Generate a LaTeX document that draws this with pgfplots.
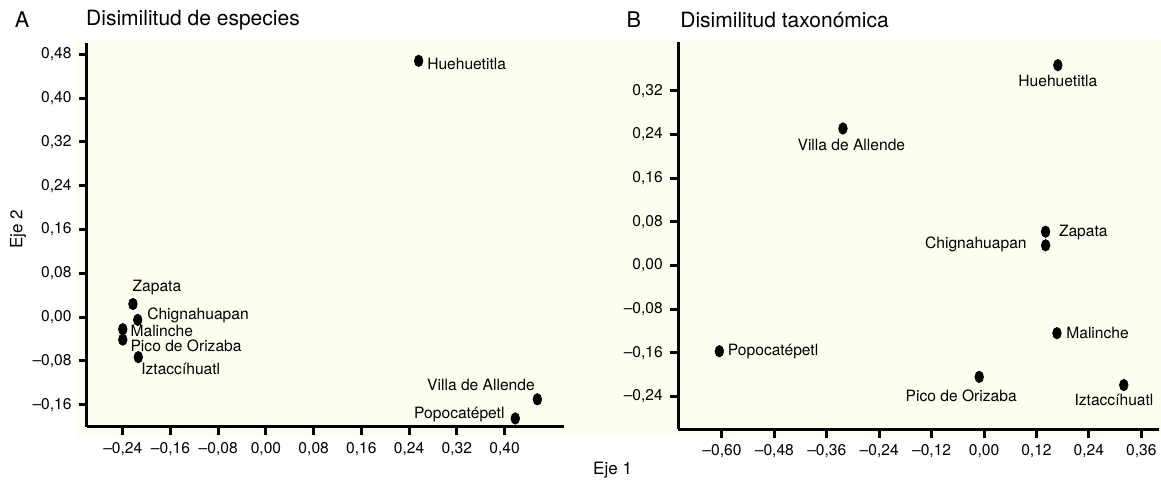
\documentclass[border=0pt]{standalone}
\usepackage{pgfplots}
\pgfplotsset{compat=1.18}
\usepackage{fontspec}
\setmainfont{TeX Gyre Heros}
\definecolor{cream}{RGB}{254,254,240}
\newcommand{\lab}{\fontsize{7.8}{9}\selectfont}
\begin{document}
\begin{tikzpicture}[x=1pt,y=1pt]
\useasboundingbox (0,0) rectangle (580.5,240.5);
\fill[cream] (38,21.7) rectangle (580.5,220.7);
\pgfplotsset{
  myax/.style={
    scale only axis,
    axis x line=bottom, axis y line=left,
    axis line style={-, line width=1.5pt},
    tick style={line width=1.5pt, black},
    tick align=outside,
    major tick length=4.2pt,
    minor tick num=0,
    ticklabel style={font=\lab},
    clip=false,
  }
}
% Panel A
\begin{axis}[myax,
  at={(43.5pt,27.15pt)}, anchor=south west,
  width=238.6pt, height=191.7pt,
  xmin=-0.30, xmax=0.50, ymin=-0.20, ymax=0.50,
  xtick={-0.24,-0.16,-0.08,0,0.08,0.16,0.24,0.32,0.40},
  xticklabels={{–0,24},{–0,16},{–0,08},{0,00},{0,08},{0,16},{0,24},{0,32},{0,40}},
  ytick={-0.16,-0.08,0,0.08,0.16,0.24,0.32,0.40,0.48},
  yticklabels={{–0,16},{–0,08},{0,00},{0,08},{0,16},{0,24},{0,32},{0,40},{0,48}},
]
\addplot[only marks, mark=*, mark size=2.85pt, mark options={draw=none, fill=black, xscale=0.75}]
  coordinates {(0.256,0.468) (-0.223,0.024) (-0.215,-0.005) (-0.240,-0.022) (-0.240,-0.041) (-0.214,-0.073) (0.455,-0.150) (0.418,-0.185)};
\begin{scope}[every node/.style={font=\lab, inner sep=0pt}]
\node[anchor=west, xshift=4.1pt, yshift=-1.5pt] at (axis cs:0.256,0.468) {Huehuetitla};
\node[xshift=12pt, yshift=8pt] at (axis cs:-0.223,0.024) {Zapata};
\node[anchor=west, xshift=4.6pt, yshift=2.5pt] at (axis cs:-0.215,-0.005) {Chignahuapan};
\node[anchor=west, xshift=3.7pt, yshift=-1pt] at (axis cs:-0.240,-0.022) {Malinche};
\node[anchor=west, xshift=3.7pt, yshift=-3pt] at (axis cs:-0.240,-0.041) {Pico de Orizaba};
\node[anchor=west, xshift=1.3pt, yshift=-6pt] at (axis cs:-0.214,-0.073) {Iztaccíhuatl};
\node[anchor=east, xshift=-1.1pt, yshift=7pt] at (axis cs:0.455,-0.150) {Villa de Allende};
\node[anchor=east, xshift=-5.2pt, yshift=2pt] at (axis cs:0.418,-0.185) {Popocatépetl};
\end{scope}
\end{axis}
% Panel B
\begin{axis}[myax,
  at={(339.15pt,25.85pt)}, anchor=south west,
  width=240.2pt, height=193.8pt,
  xmin=-0.70, xmax=0.40, ymin=-0.30, ymax=0.41,
  xtick={-0.60,-0.48,-0.36,-0.24,-0.12,0,0.12,0.24,0.36},
  xticklabels={{–0,60},{–0,48},{–0,36},{–0,24},{–0,12},{0,00},{0,12},{0,24},{0,36}},
  ytick={-0.24,-0.16,-0.08,0,0.08,0.16,0.24,0.32},
  yticklabels={{–0,24},{–0,16},{–0,08},{0,00},{0,08},{0,16},{0,24},{0,32}},
]
\addplot[only marks, mark=*, mark size=2.85pt, mark options={draw=none, fill=black, xscale=0.75}]
  coordinates {(0.169,0.367) (-0.323,0.251) (0.141,0.062) (0.141,0.037) (0.167,-0.124) (-0.606,-0.157) (-0.011,-0.204) (0.320,-0.219)};
\begin{scope}[every node/.style={font=\lab, inner sep=0pt}]
\node[yshift=-8pt] at (axis cs:0.169,0.367) {Huehuetitla};
\node[xshift=4.2pt, yshift=-8pt] at (axis cs:-0.323,0.251) {Villa de Allende};
\node[anchor=west, xshift=6.5pt, yshift=-0.3pt] at (axis cs:0.141,0.062) {Zapata};
\node[anchor=east, xshift=-9.3pt, yshift=0.5pt] at (axis cs:0.141,0.037) {Chignahuapan};
\node[anchor=west, xshift=4.5pt] at (axis cs:0.167,-0.124) {Malinche};
\node[anchor=west, xshift=4.1pt, yshift=-0.3pt] at (axis cs:-0.606,-0.157) {Popocatépetl};
\node[xshift=-9pt, yshift=-9.5pt] at (axis cs:-0.011,-0.204) {Pico de Orizaba};
\node[xshift=-4.9pt, yshift=-7.5pt] at (axis cs:0.320,-0.219) {Iztaccíhuatl};
\end{scope}
\end{axis}
% Titles and axis labels
\node[font=\fontsize{10.8}{12}\selectfont] at (11.1,230.5) {A};
\node[font=\fontsize{10.5}{12}\selectfont, anchor=west, inner sep=0pt] at (42.9,230.3) {Disimilitud de especies};
\node[font=\fontsize{10.8}{12}\selectfont] at (316.9,230.5) {B};
\node[font=\fontsize{10.5}{12}\selectfont, anchor=west, inner sep=0pt] at (340,230.3) {Disimilitud taxonómica};
\node[font=\fontsize{8.5}{10}\selectfont, rotate=90] at (9,126) {Eje 2};
\node[font=\fontsize{8.5}{10}\selectfont] at (306.3,5.5) {Eje 1};
\end{tikzpicture}
\end{document}
